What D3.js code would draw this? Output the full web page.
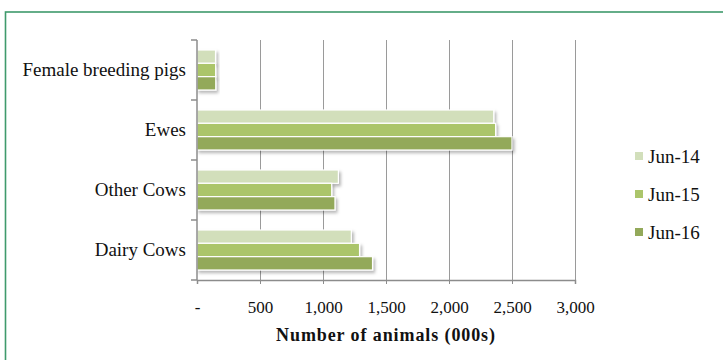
<!DOCTYPE html>
<html>
<head>
<meta charset="utf-8">
<script src="https://cdn.jsdelivr.net/npm/d3@7"></script>
<style>
  html, body { margin: 0; padding: 0; background: #fff; }
  svg { display: block; }
  text { font-family: "Liberation Serif", "DejaVu Serif", serif; fill: #111; }
</style>
</head>
<body>
<svg id="chart" width="723" height="360"></svg>
<script>
// Breeding animal numbers (thousands), June of each year
const categories = ["Female breeding pigs", "Ewes", "Other Cows", "Dairy Cows"];
const seriesNames = ["Jun-14", "Jun-15", "Jun-16"];
const jun14 = [147, 2355, 1122, 1225];
const jun15 = [148, 2370, 1069, 1290];
const jun16 = [149, 2500, 1095, 1393];
const xTicks = [0, 500, 1000, 1500, 2000, 2500, 3000];
const xTickLabels = ["-", "500", "1,000", "1,500", "2,000", "2,500", "3,000"];
const colors = ["#d2dfbb", "#abc56b", "#93a95a"];
const axisTitle = "Number of animals (000s)";

const seriesValues = [jun14, jun15, jun16];
const rows = categories.map((c, i) => ({
  category: c,
  values: seriesNames.map((s, j) => ({ series: s, value: seriesValues[j][i] }))
}));

const svg = d3.select("#chart");

// drop shadow for bars
const defs = svg.append("defs");
const f = defs.append("filter").attr("id", "shadow")
  .attr("x", "-10%").attr("y", "-30%").attr("width", "130%").attr("height", "190%");
f.append("feDropShadow").attr("dx", 2).attr("dy", 2.5).attr("stdDeviation", 1.4)
  .attr("flood-color", "#000").attr("flood-opacity", 0.28);

// outer frame
svg.append("rect").attr("x", 5.5).attr("y", 12).attr("width", 740).attr("height", 400)
  .attr("fill", "none").attr("stroke", "#3f9a6c").attr("stroke-width", 1.6);

const plot = { left: 197, right: 575, top: 40, bottom: 280 };

const x = d3.scaleLinear().domain([0, 3000]).range([plot.left, plot.right]);
const y = d3.scaleBand().domain(categories).range([plot.top, plot.bottom]).paddingInner(0).paddingOuter(0);
const yInner = d3.scaleBand().domain(seriesNames).range([10, y.bandwidth() - 10]).padding(0);

// vertical gridlines
svg.append("g").selectAll("line").data(xTicks.slice(1)).join("line")
  .attr("x1", d => x(d) + 0.5).attr("x2", d => x(d) + 0.5)
  .attr("y1", plot.top).attr("y2", plot.bottom)
  .attr("stroke", "#9a9a9a").attr("stroke-width", 1);

// bars
const groups = svg.append("g").selectAll("g").data(rows).join("g")
  .attr("transform", d => `translate(0,${y(d.category)})`);
groups.selectAll("rect").data(d => d.values).join("rect")
  .attr("x", x(0))
  .attr("y", d => yInner(d.series))
  .attr("width", d => x(d.value) - x(0))
  .attr("height", yInner.bandwidth())
  .attr("fill", (d, i) => colors[i])
  .attr("stroke", "#fff").attr("stroke-width", 1.2)
  .attr("filter", "url(#shadow)");

// x axis
const xAxis = d3.axisBottom(x).tickValues(xTicks).tickSize(4)
  .tickFormat((d, i) => xTickLabels[i]);
const gx = svg.append("g").attr("transform", `translate(0,${plot.bottom})`).call(xAxis);
gx.select(".domain").attr("stroke", "#8c8c8c").attr("stroke-width", 1.5);
gx.selectAll(".tick line").attr("stroke", "#8c8c8c");
gx.selectAll(".tick text").attr("y", 21).style("font-size", "17px")
  .style("font-family", "'Liberation Serif', serif").attr("fill", "#111");

// y axis with ticks at band edges
const gy = svg.append("g").attr("transform", `translate(${plot.left},0)`);
gy.append("line").attr("x1", 0).attr("x2", 0).attr("y1", plot.top).attr("y2", plot.bottom)
  .attr("stroke", "#8c8c8c").attr("stroke-width", 1.5);
const edges = categories.map(c => y(c)).concat([plot.bottom]);
gy.selectAll("line.edge").data(edges).join("line").attr("class", "edge")
  .attr("x1", -6).attr("x2", 0).attr("y1", d => d).attr("y2", d => d)
  .attr("stroke", "#8c8c8c").attr("stroke-width", 1.5);
gy.selectAll("text").data(categories).join("text")
  .attr("x", -11).attr("y", d => y(d) + y.bandwidth() / 2 + 6)
  .attr("text-anchor", "end").style("font-size", "19px")
  .text(d => d);

// axis title
svg.append("text").attr("x", 386).attr("y", 341)
  .attr("text-anchor", "middle").style("font-weight", "bold").style("font-size", "18px")
  .style("letter-spacing", "0.9px")
  .text(axisTitle);

// legend
const legend = svg.append("g").selectAll("g").data(seriesNames).join("g")
  .attr("transform", (d, i) => `translate(635,${152 + i * 38})`);
legend.append("rect").attr("width", 8).attr("height", 8).attr("fill", (d, i) => colors[i]);
legend.append("text").attr("x", 13).attr("y", 11).style("font-size", "19px").text(d => d);
</script>
</body>
</html>
